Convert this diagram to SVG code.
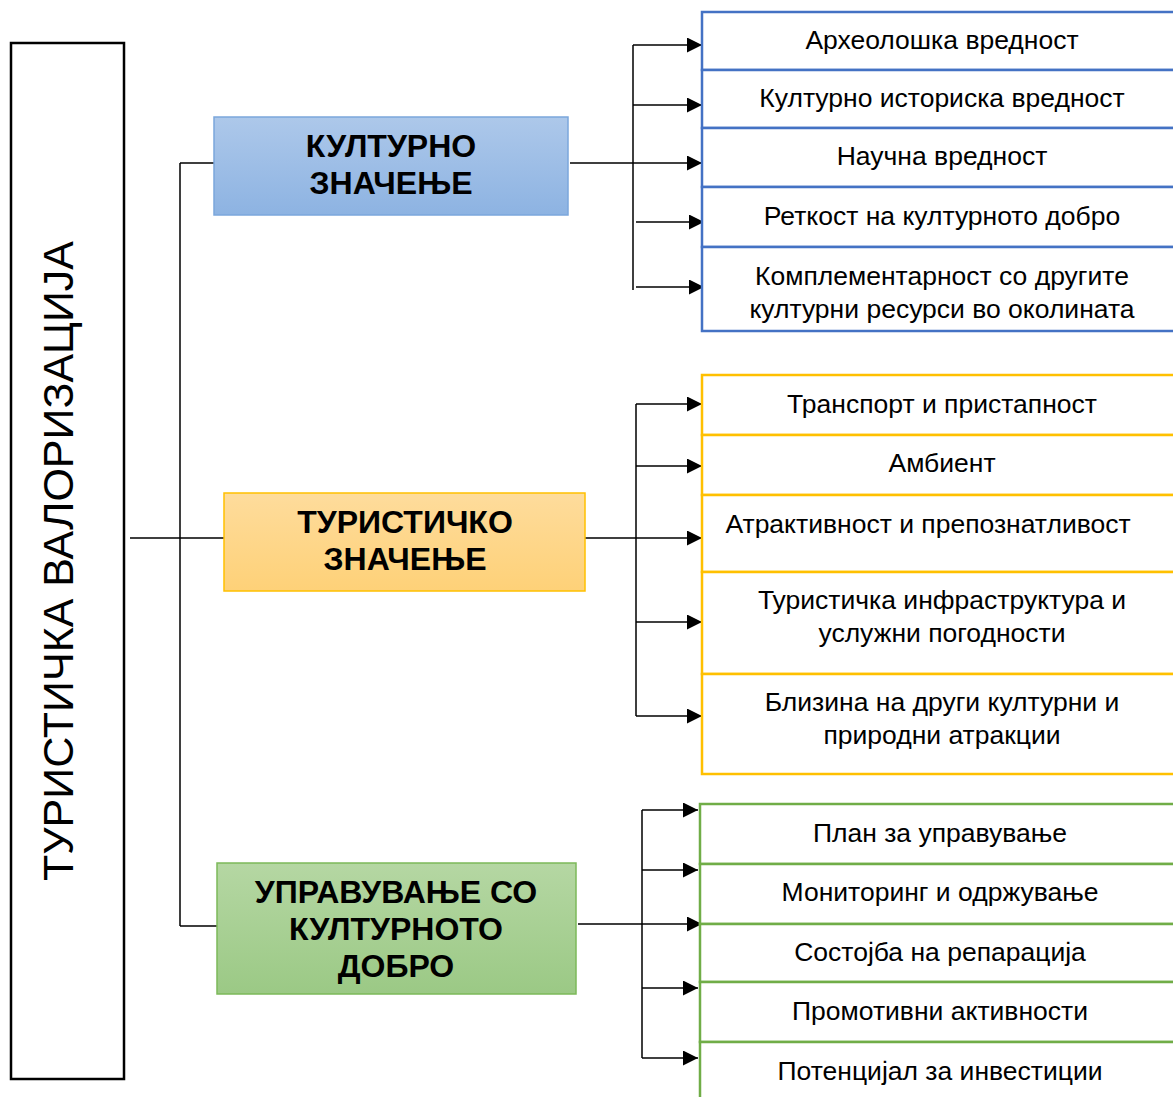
<svg xmlns="http://www.w3.org/2000/svg" width="1173" height="1097" viewBox="0 0 1173 1097">
<defs>
<linearGradient id="gBlue" x1="0" y1="0" x2="0" y2="1"><stop offset="0" stop-color="#adc8ea"/><stop offset="1" stop-color="#8db3e2"/></linearGradient>
<linearGradient id="gYellow" x1="0" y1="0" x2="0" y2="1"><stop offset="0" stop-color="#fedc9c"/><stop offset="1" stop-color="#fed178"/></linearGradient>
<linearGradient id="gGreen" x1="0" y1="0" x2="0" y2="1"><stop offset="0" stop-color="#b5d7a3"/><stop offset="1" stop-color="#9bc985"/></linearGradient>
<marker id="arr" viewBox="0 0 10 10" refX="10" refY="5" markerWidth="15" markerHeight="15" markerUnits="userSpaceOnUse" orient="auto"><path d="M0,0 L10,5 L0,10 Z" fill="#000"/></marker>
</defs>
<style>
.t{font-family:"Liberation Sans",Arial,sans-serif;font-size:26.5px;fill:#000;text-anchor:middle}
.c{font-family:"Liberation Sans",Arial,sans-serif;font-size:32px;font-weight:bold;fill:#000;text-anchor:middle}
.ln{stroke:#000;stroke-width:1.5;fill:none}
.ar{stroke:#000;stroke-width:1.5;fill:none;marker-end:url(#arr)}
.b{fill:#fff;stroke:#4472c4;stroke-width:2.5}
.y{fill:#fff;stroke:#ffc000;stroke-width:2.5}
.g{fill:#fff;stroke:#70ad47;stroke-width:2.5}
</style>
<rect width="1173" height="1097" fill="#fff"/>
<g id="connectors">
<path class="ln" d="M130,538 H224 M180,163 V926 M180,163 H214 M180,926 H217"/>
<path class="ln" d="M570,163 H633 M633,45 V290"/>
<path class="ar" d="M633,45 H702"/><path class="ar" d="M633,105 H702"/><path class="ar" d="M633,163 H702"/><path class="ar" d="M636,222 H704"/><path class="ar" d="M636,287 H704"/>
<path class="ln" d="M585,538 H636 M636,404 V716"/>
<path class="ar" d="M636,404 H702"/><path class="ar" d="M636,466 H702"/><path class="ar" d="M636,538 H702"/><path class="ar" d="M636,622 H702"/><path class="ar" d="M636,716 H702"/>
<path class="ln" d="M578,924 H642 M642,810 V1058"/>
<path class="ar" d="M642,810 H698"/><path class="ar" d="M642,870 H698"/><path class="ar" d="M642,924 H702"/><path class="ar" d="M642,988 H698"/><path class="ar" d="M642,1058 H698"/>
</g>
<g id="root">
<rect x="11" y="43" width="113" height="1036" fill="#fff" stroke="#000" stroke-width="2.5"/>
<text transform="translate(73,561) rotate(-90)" style="font-family:'Liberation Sans',Arial,sans-serif;font-size:43px;text-anchor:middle">ТУРИСТИЧКА ВАЛОРИЗАЦИЈА</text>
</g>
<g id="cat-kulturno">
<rect x="214" y="117" width="354" height="98" fill="url(#gBlue)" stroke="#7ba7dc" stroke-width="1.5"/>
<text class="c" x="391" y="157">КУЛТУРНО</text><text class="c" x="391" y="194">ЗНАЧЕЊЕ</text>
</g>
<g id="cat-turisticko">
<rect x="224" y="493" width="361" height="98" fill="url(#gYellow)" stroke="#ffc000" stroke-width="1.5"/>
<text class="c" x="405" y="533">ТУРИСТИЧКО</text><text class="c" x="405" y="570">ЗНАЧЕЊЕ</text>
</g>
<g id="cat-upravuvanje">
<rect x="217" y="863" width="359" height="131" fill="url(#gGreen)" stroke="#7cb95a" stroke-width="1.5"/>
<text class="c" x="396" y="903">УПРАВУВАЊЕ СО</text><text class="c" x="396" y="940">КУЛТУРНОТО</text><text class="c" x="396" y="977">ДОБРО</text>
</g>
<g id="blue-items">
<rect class="b" x="702" y="12" width="480" height="58"/><text class="t" x="942" y="49">Археолошка вредност</text>
<rect class="b" x="702" y="70" width="480" height="58"/><text class="t" x="942" y="107">Културно историска вредност</text>
<rect class="b" x="702" y="128" width="480" height="59"/><text class="t" x="942" y="165">Научна вредност</text>
<rect class="b" x="702" y="187" width="480" height="60"/><text class="t" x="942" y="225">Реткост на културното добро</text>
<rect class="b" x="702" y="247" width="480" height="84"/><text class="t" x="942" y="285">Комплементарност со другите</text><text class="t" x="942" y="318">културни ресурси во околината</text>
</g>
<g id="yellow-items">
<rect class="y" x="702" y="375" width="480" height="60"/><text class="t" x="942" y="413">Транспорт и пристапност</text>
<rect class="y" x="702" y="435" width="480" height="60"/><text class="t" x="942" y="472">Амбиент</text>
<rect class="y" x="702" y="495" width="480" height="77"/><text class="t" x="928" y="533">Атрактивност и препознатливост</text>
<rect class="y" x="702" y="572" width="480" height="102"/><text class="t" x="942" y="609">Туристичка инфраструктура и</text><text class="t" x="942" y="642">услужни погодности</text>
<rect class="y" x="702" y="674" width="480" height="100"/><text class="t" x="942" y="711">Близина на други културни и</text><text class="t" x="942" y="744">природни атракции</text>
</g>
<g id="green-items">
<rect class="g" x="700" y="804" width="480" height="60"/><text class="t" x="940" y="842">План за управување</text>
<rect class="g" x="700" y="864" width="480" height="60"/><text class="t" x="940" y="901">Мониторинг и одржување</text>
<rect class="g" x="700" y="924" width="480" height="58"/><text class="t" x="940" y="961">Состојба на репарација</text>
<rect class="g" x="700" y="982" width="480" height="60"/><text class="t" x="940" y="1020">Промотивни активности</text>
<rect class="g" x="700" y="1042" width="480" height="70"/><text class="t" x="940" y="1080">Потенцијал за инвестиции</text>
</g>
</svg>
